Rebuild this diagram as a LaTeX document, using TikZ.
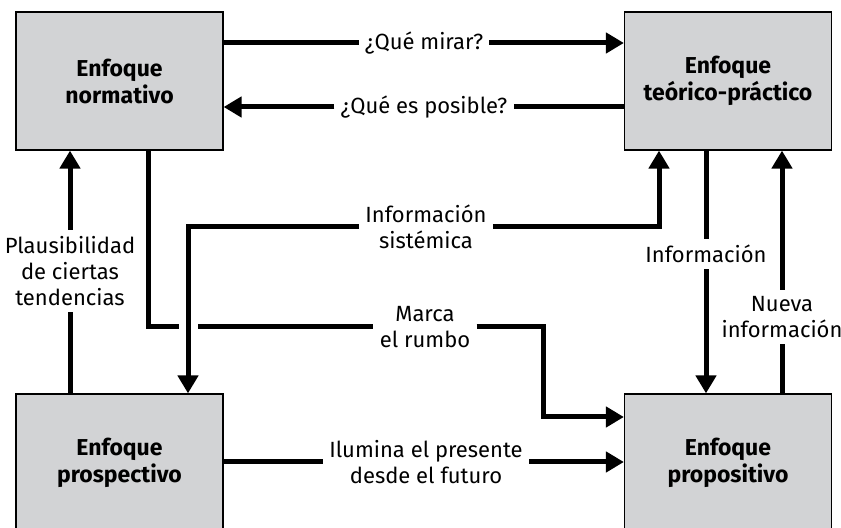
\documentclass[tikz,border=0pt]{standalone}
\usepackage{fontspec}
\setmainfont{Fira Sans}
\usetikzlibrary{arrows.meta,calc}
\tikzset {>={Triangle[length=9pt,width=10pt]}}
\definecolor{grisenf}{HTML}{D2D3D5}
\tikzset{
  enfoque/.style={draw=black,line width=.6pt,fill=grisenf,
    minimum width=103.5pt,minimum height=69pt,align=center,
    font=\bfseries\fontsize{11.5}{13.5}\selectfont},
  etiqueta/.style={align=center,inner sep=3pt,font=\fontsize{11}{13}\selectfont},
  flujo/.style={line width=2.5pt}
}

\begin{document}
\begin{tikzpicture}[x=.5pt,y=-.5pt]
\useasboundingbox (0,0) rectangle (841,528);

\node[enfoque] (nor)  at (119.5,81)  {Enfoque\\normativo};
\node[enfoque] (teo)  at (728,81)    {Enfoque\\teórico-práctico};
\node[enfoque] (pros) at (119.5,463) {Enfoque\\prospectivo};
\node[enfoque] (prop) at (728,463)   {Enfoque\\propositivo};

\node[etiqueta] (mirar)   at (424,43)  {¿Qué mirar?};
\node[etiqueta] (posible) at (424,107) {¿Qué es posible?};
\node[etiqueta] (plaus)   at (70,271)  {Plausibilidad\\de ciertas\\tendencias};
\node[etiqueta] (sist)    at (426,227) {Información\\sistémica};
\node[etiqueta] (rumbo)   at (425,327) {Marca\\el rumbo};
\node[etiqueta] (info)    at (706,254) {Información};
\node[etiqueta] (nueva)   at (782,317) {Nueva\\información};
\node[etiqueta] (ilum)    at (426,462) {Ilumina el presente\\desde el futuro};

\coordinate (m1) at (148,327);
\coordinate (m2) at (543,327);
\coordinate (m3) at (543,417);
\coordinate (s1) at (188,227);
\coordinate (s2) at (659,227);

\draw[flujo,->] (nor.east |- mirar) -- (mirar) -- (teo.west |- mirar);
\draw[flujo,->] (teo.west |- posible) -- (posible) -- (nor.east |- posible);
\draw[flujo,->] (pros.north -| plaus) -- (plaus) -- (nor.south -| plaus);
\draw[flujo,->] (nor.south -| m1) -- (m1) -- (rumbo) -- (m2) -- (m3) -- (prop.west |- m3);
\draw[white,line width=9.5pt] ($(s1 |- m1)+(0,-12)$) -- ($(s1 |- m1)+(0,12)$);
\draw[flujo,->] (sist) -- (s1) -- (pros.north -| s1);
\draw[flujo,->] (sist) -- (s2) -- (teo.south -| s2);
\draw[flujo,->] (teo.south -| info) -- (info) -- (prop.north -| info);
\draw[flujo,->] (prop.north -| nueva) -- (nueva) -- (teo.south -| nueva);
\draw[flujo,->] (pros.east |- ilum) -- (ilum) -- (prop.west |- ilum);
\end{tikzpicture}
\end{document}
